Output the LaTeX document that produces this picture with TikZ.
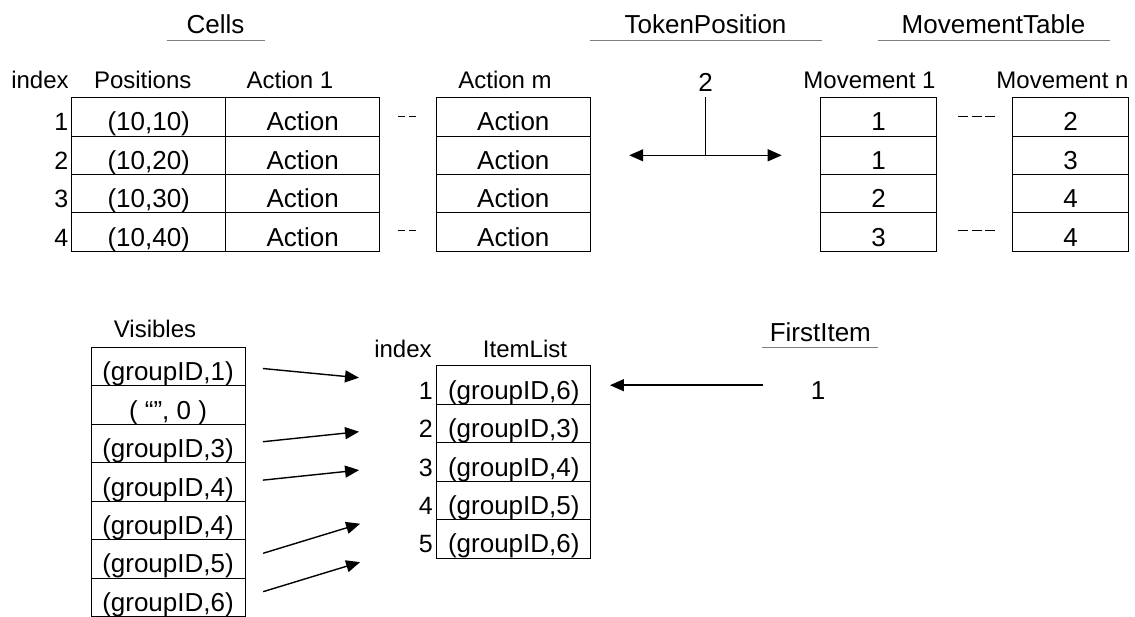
\documentclass[tikz,border=0pt]{standalone}
\usepackage{fontspec}
\setmainfont{Liberation Sans}
\usepackage{tikz}
\usetikzlibrary{arrows.meta,positioning}

\tikzset{
  tabcell/.style={draw,rectangle,inner sep=0pt,outer sep=0pt,minimum height=38.4pt,
    text height=30pt,text depth=2pt,font=\fontsize{26}{30}\selectfont},
  tabval/.style={tabcell,draw=none},
  idxnum/.style={inner sep=0pt,outer sep=0pt,minimum height=38.4pt,
    text height=30pt,text depth=2pt,font=\fontsize{25}{29}\selectfont},
  colhead/.style={anchor=base,inner sep=0pt,font=\fontsize{24}{28}\selectfont},
  tabtitle/.style={anchor=base,inner sep=0pt,text depth=6pt,font=\fontsize{26}{30}\selectfont},
  underbar/.style={draw=gray,line width=1.3pt},
  ptrarrow/.style={->,line width=1.4pt},
  ellip/.style={line width=1.6pt,dash pattern=on 7pt off 4pt},
  ellipw/.style={line width=1.6pt,dash pattern=on 10pt off 3.5pt}
}

\begin{document}
\begin{tikzpicture}[x=1pt,y=-1pt,line width=1pt,>={Triangle[length=14pt,width=12pt]}]
\useasboundingbox (0,0) rectangle (1135,617);
% titles
\node[tabtitle,minimum width=97pt] (cellsT) at (215.5,34) {Cells};
\node[tabtitle,minimum width=231pt] (tokT) at (705.5,34) {TokenPosition};
\node[tabtitle,minimum width=231pt] (moveT) at (993.5,34) {MovementTable};
\node[tabtitle,minimum width=115pt] (firstT) at (820.3,341.3) {FirstItem};
\draw[underbar] (cellsT.south west) -- (cellsT.south east);
\draw[underbar] (tokT.south west) -- (tokT.south east);
\draw[underbar] (moveT.south west) -- (moveT.south east);
\draw[underbar] (firstT.south west) -- (firstT.south east);
% Cells
\node[colhead] (hIdx) at (40,89) {index};
\node[colhead] (hPos) at (142.7,89) {Positions};
\node[colhead] (hAct) at (290,89) {Action 1};
\node[colhead] (hActm) at (505,89) {Action m};
\node[tabcell,minimum width=154pt] (pos1) at (148.7,116.9) {(10,10)};
\node[tabcell,minimum width=154pt,below=0pt of pos1] (pos2) {(10,20)};
\node[tabcell,minimum width=154pt,below=0pt of pos2] (pos3) {(10,30)};
\node[tabcell,minimum width=154pt,below=0pt of pos3] (pos4) {(10,40)};
\node[tabcell,minimum width=154pt,right=0pt of pos1] (act1) {Action};
\node[tabcell,minimum width=154pt,right=0pt of pos2] (act2) {Action};
\node[tabcell,minimum width=154pt,right=0pt of pos3] (act3) {Action};
\node[tabcell,minimum width=154pt,right=0pt of pos4] (act4) {Action};
\node[idxnum,left=3.4pt of pos1] (n1) {1};
\node[idxnum,left=3.4pt of pos2] (n2) {2};
\node[idxnum,left=3.4pt of pos3] (n3) {3};
\node[idxnum,left=3.4pt of pos4] (n4) {4};
\node[tabcell,minimum width=154.6pt] (am1) at (513.3,116.9) {Action};
\node[tabcell,minimum width=154.6pt,below=0pt of am1] (am2) {Action};
\node[tabcell,minimum width=154.6pt,below=0pt of am2] (am3) {Action};
\node[tabcell,minimum width=154.6pt,below=0pt of am3] (am4) {Action};
\draw[ellip] (398,116.7) -- (418,116.7);
\draw[ellip] (398,230.7) -- (418,230.7);
% MovementTable
\node[colhead] (hMv) at (869.5,89) {Movement 1};
\node[colhead] (hMvn) at (1062.5,89) {Movement n};
\node[tabcell,minimum width=115.6pt] (mv1) at (878.5,116.9) {1};
\node[tabcell,minimum width=115.6pt,below=0pt of mv1] (mv2) {1};
\node[tabcell,minimum width=115.6pt,below=0pt of mv2] (mv3) {2};
\node[tabcell,minimum width=115.6pt,below=0pt of mv3] (mv4) {3};
\node[tabcell,minimum width=115.6pt] (mn1) at (1070.5,116.9) {2};
\node[tabcell,minimum width=115.6pt,below=0pt of mn1] (mn2) {3};
\node[tabcell,minimum width=115.6pt,below=0pt of mn2] (mn3) {4};
\node[tabcell,minimum width=115.6pt,below=0pt of mn3] (mn4) {4};
\draw[ellipw] (958,116.7) -- (995,116.7);
\draw[ellipw] (958,230.7) -- (995,230.7);
% TokenPosition
\node[tabval] (two) at (705.5,77.7) {2};
\draw[<->,line width=1.4pt,shorten <=38.6pt,shorten >=39pt] (am2.east) -- (mv2.west);
\draw[line width=1.4pt] (two.south) -- (two.south |- am2.east);
% Visibles
\node[colhead] (hVis) at (155,338) {Visibles};
\node[tabcell,minimum width=154pt] (vis1) at (168,366.8) {(groupID,1)};
\node[tabcell,minimum width=154pt,below=0pt of vis1] (vis2) {( “”, 0 )};
\node[tabcell,minimum width=154pt,below=0pt of vis2] (vis3) {(groupID,3)};
\node[tabcell,minimum width=154pt,below=0pt of vis3] (vis4) {(groupID,4)};
\node[tabcell,minimum width=154pt,below=0pt of vis4] (vis5) {(groupID,4)};
\node[tabcell,minimum width=154pt,below=0pt of vis5] (vis6) {(groupID,5)};
\node[tabcell,minimum width=154pt,below=0pt of vis6] (vis7) {(groupID,6)};
% ItemList
\node[colhead] (hIdx2) at (403,358) {index};
\node[colhead] (hItem) at (525,358) {ItemList};
\node[tabcell,minimum width=154.3pt] (item1) at (513.8,385.2) {(groupID,6)};
\node[tabcell,minimum width=154.3pt,below=0pt of item1] (item2) {(groupID,3)};
\node[tabcell,minimum width=154.3pt,below=0pt of item2] (item3) {(groupID,4)};
\node[tabcell,minimum width=154.3pt,below=0pt of item3] (item4) {(groupID,5)};
\node[tabcell,minimum width=154.3pt,below=0pt of item4] (item5) {(groupID,6)};
\node[idxnum,left=4pt of item1] (k1) {1};
\node[idxnum,left=4pt of item2] (k2) {2};
\node[idxnum,left=4pt of item3] (k3) {3};
\node[idxnum,left=4pt of item4] (k4) {4};
\node[idxnum,left=4pt of item5] (k5) {5};
\draw[ptrarrow,shorten <=18pt,shorten >=78pt] (vis1.east) -- (item1.west);
\draw[ptrarrow,shorten <=18pt,shorten >=78pt] (vis3.east) -- (item2.west);
\draw[ptrarrow,shorten <=18pt,shorten >=78pt] (vis4.east) -- (item3.west);
\draw[ptrarrow,shorten <=19pt,shorten >=80pt] (vis6.east) -- (item4.west);
\draw[ptrarrow,shorten <=19pt,shorten >=80pt] (vis7.east) -- (item5.west);
% FirstItem
\node[tabval] (one) at (818,385.2) {1};
\draw[ptrarrow,shorten <=47.5pt,shorten >=19pt] (one.west) -- (item1.east);
\end{tikzpicture}
\end{document}
